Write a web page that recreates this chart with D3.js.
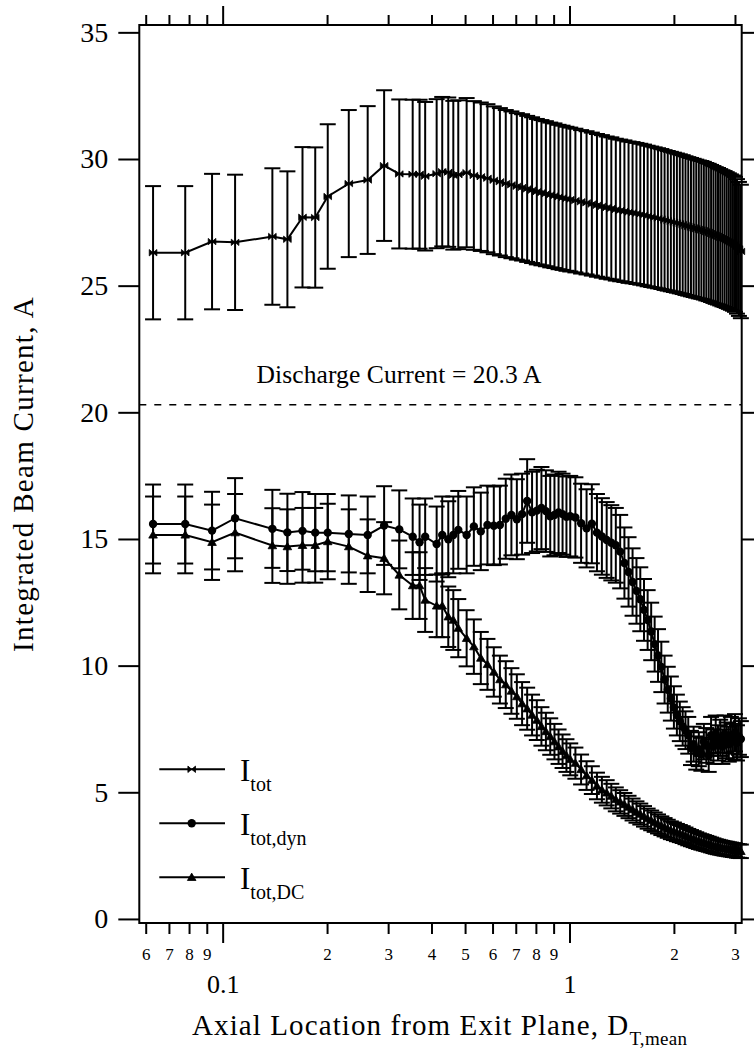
<!DOCTYPE html>
<html>
<head>
<meta charset="utf-8">
<script src="https://cdn.jsdelivr.net/npm/d3@7"></script>
<style>
  body { margin: 0; background: #fff; }
  svg { display: block; font-family: "Liberation Serif", "Times New Roman", serif; }
</style>
</head>
<body>
<div id="chart-container"></div>
<script>
// axial location (normalised), shared by all three series
var xPos = [0.063, 0.078, 0.0932, 0.1086, 0.1391, 0.1537, 0.1699, 0.1849, 0.2009, 0.231, 0.2619, 0.2921, 0.323, 0.3531, 0.3696, 0.3836, 0.414, 0.4296, 0.4472, 0.4624, 0.4779, 0.5052,
  0.53, 0.555, 0.58, 0.605, 0.63, 0.655, 0.68, 0.705, 0.73, 0.755, 0.78, 0.805, 0.83, 0.855, 0.88, 0.905, 0.93, 0.955, 0.98, 1.005,
  1.04, 1.08, 1.12, 1.16, 1.2, 1.24, 1.28, 1.32, 1.36, 1.4, 1.44, 1.48, 1.52, 1.56, 1.6, 1.64, 1.68, 1.72, 1.76, 1.8,
  1.84, 1.88, 1.92, 1.96, 2.0, 2.04, 2.08, 2.12, 2.16, 2.2, 2.24, 2.28, 2.32, 2.36, 2.4, 2.44, 2.48, 2.52, 2.56, 2.6,
  2.64, 2.68, 2.72, 2.76, 2.8, 2.84, 2.88, 2.92, 2.96, 3.0, 3.04, 3.08, 3.12];

var iTot = [26.3, 26.3, 26.74, 26.71, 26.94, 26.83, 27.7, 27.69, 28.52, 29.03, 29.17, 29.74, 29.41, 29.4, 29.4, 29.32, 29.42, 29.5, 29.48, 29.36, 29.38, 29.46,
  29.35, 29.3, 29.24, 29.16, 29.1, 29.03, 28.98, 28.92, 28.88, 28.82, 28.77, 28.71, 28.67, 28.63, 28.58, 28.55, 28.5, 28.47, 28.43, 28.4,
  28.36, 28.31, 28.27, 28.22, 28.17, 28.13, 28.08, 28.05, 28.0, 27.97, 27.94, 27.9, 27.88, 27.85, 27.82, 27.79, 27.75, 27.72, 27.69, 27.66,
  27.63, 27.59, 27.56, 27.53, 27.5, 27.47, 27.44, 27.41, 27.37, 27.34, 27.31, 27.28, 27.25, 27.22, 27.2, 27.17, 27.13, 27.1, 27.06, 27.02,
  26.98, 26.95, 26.91, 26.87, 26.84, 26.8, 26.76, 26.72, 26.68, 26.63, 26.55, 26.45, 26.35];

var iDyn = [15.59, 15.59, 15.33, 15.82, 15.4, 15.26, 15.32, 15.25, 15.25, 15.2, 15.16, 15.53, 15.38, 15.09, 14.87, 15.09, 14.8, 15.16, 14.99, 15.16, 15.36, 15.16,
  15.49, 15.3, 15.55, 15.52, 15.55, 15.8, 15.95, 15.78, 15.98, 16.5, 16.05, 16.12, 16.22, 16.1, 15.9, 15.95, 16.05, 15.98, 15.88, 15.9,
  15.85, 15.62, 15.42, 15.6, 15.25, 15.1, 14.96, 14.85, 14.75, 14.5, 14.05, 13.7, 13.3, 12.95, 12.62, 12.2, 11.8, 11.35, 10.85, 10.4,
  9.95, 9.45, 9.05, 8.7, 8.35, 8.05, 7.8, 7.6, 7.45, 7.25, 6.75, 6.9, 6.55, 6.7, 6.5, 7.0, 6.85, 6.45, 7.25, 6.8,
  7.3, 6.95, 7.15, 6.8, 7.3, 7.05, 6.9, 7.25, 7.0, 7.35, 6.95, 7.2, 7.1];

var iDC = [15.16, 15.16, 14.87, 15.25, 14.74, 14.7, 14.75, 14.75, 14.9, 14.7, 14.34, 14.24, 13.58, 13.16, 13.16, 12.59, 12.36, 12.36, 11.93, 11.8, 11.48, 11.08,
  10.75, 10.3, 10.05, 9.75, 9.45, 9.25, 9.0, 8.78, 8.5, 8.3, 8.05, 7.85, 7.6, 7.4, 7.2, 7.0, 6.8, 6.62, 6.45, 6.3,
  6.15, 5.9, 5.66, 5.48, 5.25, 5.1, 4.98, 4.85, 4.72, 4.62, 4.52, 4.42, 4.32, 4.22, 4.14, 4.05, 3.96, 3.89, 3.82, 3.75,
  3.68, 3.62, 3.56, 3.5, 3.46, 3.41, 3.37, 3.33, 3.28, 3.23, 3.19, 3.15, 3.11, 3.07, 3.04, 3.01, 2.98, 2.95, 2.92, 2.89,
  2.86, 2.84, 2.82, 2.8, 2.78, 2.77, 2.75, 2.74, 2.72, 2.71, 2.69, 2.68, 2.67];

var errFrac = 0.10;          // +/- 10 % uncertainty on every point
var dischargeCurrent = 20.3;
var yTicks = [0, 5, 10, 15, 20, 25, 30, 35];
var xMajorTicks = [0.1, 1];
var xMinorTicks = [0.06, 0.07, 0.08, 0.09, 0.2, 0.3, 0.4, 0.5, 0.6, 0.7, 0.8, 0.9, 2, 3];
var legendNames = ["tot", "tot,dyn", "tot,DC"];

var W = 754, H = 1051;
var frameL = 139.3, frameR = 741.7, frameT = 25, frameB = 923;

var svg = d3.select("#chart-container").append("svg").attr("width", W).attr("height", H);

var x = d3.scaleLog().domain([0.0575, 3.137]).range([frameL, frameR]);
var y = d3.scaleLinear().domain([-0.16, 35.29]).range([frameB, frameT]);

function styleAxis(g) {
  g.select(".domain").remove();
  g.selectAll(".tick line").attr("stroke", "#000").attr("stroke-width", 2);
  g.selectAll("text").style("font-family", "'Liberation Serif', serif").attr("fill", "#000");
}

// y axes (ticks outside the frame on both sides)
svg.append("g").attr("transform", "translate(" + frameL + ",0)")
  .call(d3.axisLeft(y).tickValues(yTicks).tickSize(21).tickPadding(10))
  .call(styleAxis)
  .selectAll("text").style("font-size", "28px");
svg.append("g").attr("transform", "translate(" + frameR + ",0)")
  .call(d3.axisRight(y).tickValues(yTicks).tickSize(20).tickFormat(""))
  .call(styleAxis);

// top axis
svg.append("g").attr("transform", "translate(0," + frameT + ")")
  .call(d3.axisTop(x).tickValues(xMajorTicks).tickSize(19).tickFormat(""))
  .call(styleAxis);
svg.append("g").attr("transform", "translate(0," + frameT + ")")
  .call(d3.axisTop(x).tickValues(xMinorTicks).tickSize(10).tickFormat(""))
  .call(styleAxis);

// bottom axis
svg.append("g").attr("transform", "translate(0," + frameB + ")")
  .call(d3.axisBottom(x).tickValues(xMajorTicks).tickSize(20).tickFormat(function (d) { return d < 1 ? "0.1" : "1"; }))
  .call(styleAxis)
  .selectAll("text").attr("y", 70).attr("dy", 0).style("font-size", "26px");
svg.append("g").attr("transform", "translate(0," + frameB + ")")
  .call(d3.axisBottom(x).tickValues(xMinorTicks).tickSize(11).tickFormat(function (d) {
    return String(Math.round(d / Math.pow(10, Math.floor(Math.log10(d) + 1e-9))));
  }))
  .call(styleAxis)
  .selectAll("text").attr("y", 37).attr("dy", 0).style("font-size", "17px");

// frame
svg.append("rect").attr("x", frameL).attr("y", frameT).attr("width", frameR - frameL).attr("height", frameB - frameT)
  .attr("fill", "none").attr("stroke", "#000").attr("stroke-width", 2);

// discharge current reference
svg.append("line").attr("x1", frameL).attr("x2", frameR).attr("y1", y(dischargeCurrent)).attr("y2", y(dischargeCurrent))
  .attr("stroke", "#000").attr("stroke-width", 1.6).attr("stroke-dasharray", "7,8");
svg.append("text").attr("x", 399).attr("y", 383).attr("text-anchor", "middle")
  .style("font-size", "25.5px").style("letter-spacing", "0.1px")
  .text("Discharge Current = " + dischargeCurrent + " A");

// markers
var bowtie = "M-3.8,-3.2L0,0L-3.8,3.2ZM3.8,-3.2L0,0L3.8,3.2Z";
var triangle = "M0,-4.2L4.3,3.2L-4.3,3.2Z";
function drawMarker(g, kind, cx, cy) {
  if (kind === "circle") {
    g.append("circle").attr("cx", cx).attr("cy", cy).attr("r", 4.2).attr("fill", "#000");
  } else {
    g.append("path").attr("d", kind === "bowtie" ? bowtie : triangle)
      .attr("transform", "translate(" + cx + "," + cy + ")").attr("fill", "#000").attr("stroke", "#000").attr("stroke-width", 0.8);
  }
}

var series = [
  { vals: iTot, marker: "bowtie" },
  { vals: iDyn, marker: "circle" },
  { vals: iDC, marker: "triangle" }
];

var line = d3.line().x(function (d) { return x(d[0]); }).y(function (d) { return y(d[1]); });

series.forEach(function (s) {
  var pts = xPos.map(function (xv, i) { return [xv, s.vals[i]]; });
  var eg = svg.append("g").attr("class", "errorbars").attr("stroke", "#000");
  pts.forEach(function (p) {
    var px = x(p[0]), hi = y(p[1] * (1 + errFrac)), lo = y(p[1] * (1 - errFrac));
    eg.append("line").attr("x1", px).attr("x2", px).attr("y1", hi).attr("y2", lo).attr("stroke-width", 2);
    eg.append("line").attr("x1", px - 8).attr("x2", px + 8).attr("y1", hi).attr("y2", hi).attr("stroke-width", 2);
    eg.append("line").attr("x1", px - 8).attr("x2", px + 8).attr("y1", lo).attr("y2", lo).attr("stroke-width", 2);
  });
  svg.append("path").datum(pts).attr("d", line).attr("fill", "none").attr("stroke", "#000").attr("stroke-width", 2);
  var mg = svg.append("g").attr("class", "markers");
  pts.forEach(function (p) { drawMarker(mg, s.marker, x(p[0]), y(p[1])); });
});

// legend
var legend = svg.append("g").attr("class", "legend");
legendNames.forEach(function (name, i) {
  var ly = 769.3 + i * 54;
  legend.append("line").attr("x1", 159.3).attr("x2", 225).attr("y1", ly).attr("y2", ly)
    .attr("stroke", "#000").attr("stroke-width", 2);
  drawMarker(legend, series[i].marker, 191.7, ly);
  var t = legend.append("text").attr("x", 240).attr("y", ly + 12);
  t.append("tspan").style("font-size", "31px").text("I");
  t.append("tspan").attr("dy", 10).style("font-size", "20px").text(name);
});

// axis titles
var xt = svg.append("text").attr("x", 192).attr("y", 1035).style("font-size", "29px").style("letter-spacing", "1.1px");
xt.append("tspan").text("Axial Location from Exit Plane, D");
xt.append("tspan").attr("dy", 10).style("font-size", "19px").style("letter-spacing", "0.3px").text("T,mean");

svg.append("text").attr("transform", "translate(33," + ((frameT + frameB) / 2) + ") rotate(-90)")
  .attr("text-anchor", "middle").style("font-size", "29px").style("letter-spacing", "1.3px")
  .text("Integrated Beam Current, A");
</script>
</body>
</html>
